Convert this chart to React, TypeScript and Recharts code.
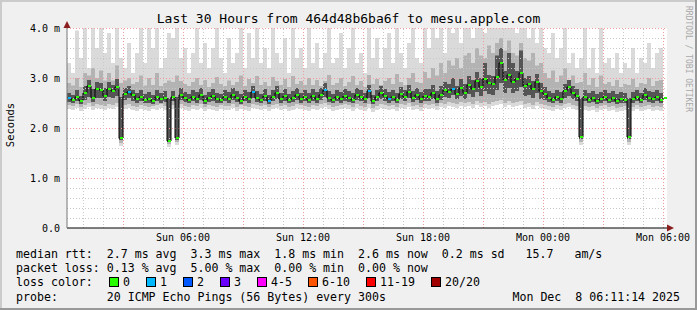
import { ComposedChart, Area, Line, XAxis, YAxis, CartesianGrid, ReferenceLine } from "recharts";

// one sample every 12 minutes, plot starts Sun 00:12, 30 hours wide
const STEP_MIN = 12;
const START_MIN = 12;
const SPAN_MIN = 1800;

// median rtt (ms)
const median = [
  2.60, 2.56, 2.62, 2.55, 2.70, 2.84, 2.60, 2.78, 2.76, 2.64,
  2.78, 2.74, 2.82, 1.80, 2.68, 2.72, 2.66, 2.58, 2.62, 2.56,
  2.58, 2.54, 2.62, 2.58, 2.60, 1.74, 2.62, 1.80, 2.66, 2.60,
  2.56, 2.62, 2.58, 2.66, 2.54, 2.60, 2.64, 2.58, 2.56, 2.62,
  2.58, 2.66, 2.60, 2.54, 2.62, 2.58, 2.72, 2.60, 2.56, 2.64,
  2.54, 2.62, 2.70, 2.58, 2.64, 2.56, 2.60, 2.66, 2.58, 2.62,
  2.56, 2.64, 2.58, 2.66, 2.76, 2.60, 2.56, 2.62, 2.58, 2.64,
  2.60, 2.56, 2.66, 2.62, 2.58, 2.74, 2.54, 2.62, 2.70, 2.64,
  2.58, 2.62, 2.56, 2.68, 2.62, 2.72, 2.60, 2.66, 2.58, 2.64,
  2.62, 2.70, 2.58, 2.66, 2.76, 2.72, 2.78, 2.68, 2.80, 2.70,
  2.86, 2.78, 2.94, 2.82, 2.98, 2.90, 2.88, 3.02, 3.30, 2.96,
  3.06, 2.92, 2.98, 3.10, 2.84, 2.88, 2.78, 2.92, 2.74, 2.68,
  2.60, 2.56, 2.62, 2.58, 2.74, 2.82, 2.70, 2.64, 1.82, 2.62,
  2.56, 2.60, 2.54, 2.58, 2.62, 2.56, 2.60, 2.54, 2.58, 2.56,
  1.82, 2.58, 2.62, 2.56, 2.66, 2.60, 2.58, 2.62, 2.56, 2.60,
];

// smoke: lowest ping
const smokeMin = [
  2.38, 2.36, 2.40, 2.34, 2.38, 2.42, 2.36, 2.40, 2.38, 2.36,
  2.40, 2.38, 2.42, 1.64, 2.38, 2.40, 2.36, 2.34, 2.38, 2.36,
  2.34, 2.38, 2.36, 2.40, 2.36, 1.62, 2.38, 1.66, 2.40, 2.36,
  2.34, 2.38, 2.36, 2.40, 2.34, 2.38, 2.36, 2.34, 2.38, 2.36,
  2.36, 2.40, 2.34, 2.38, 2.36, 2.34, 2.40, 2.38, 2.36, 2.38,
  2.34, 2.38, 2.40, 2.36, 2.38, 2.34, 2.36, 2.40, 2.38, 2.36,
  2.34, 2.38, 2.36, 2.40, 2.42, 2.38, 2.34, 2.36, 2.38, 2.40,
  2.38, 2.34, 2.40, 2.36, 2.34, 2.40, 2.32, 2.36, 2.40, 2.38,
  2.36, 2.38, 2.34, 2.40, 2.38, 2.42, 2.36, 2.38, 2.34, 2.40,
  2.38, 2.40, 2.36, 2.42, 2.40, 2.44, 2.42, 2.40, 2.44, 2.42,
  2.44, 2.40, 2.46, 2.42, 2.44, 2.40, 2.44, 2.46, 2.48, 2.42,
  2.46, 2.42, 2.44, 2.46, 2.40, 2.42, 2.38, 2.44, 2.40, 2.38,
  2.36, 2.34, 2.38, 2.36, 2.40, 2.42, 2.38, 2.36, 1.66, 2.36,
  2.34, 2.36, 2.32, 2.36, 2.38, 2.34, 2.36, 2.32, 2.34, 2.36,
  1.66, 2.34, 2.38, 2.34, 2.36, 2.38, 2.34, 2.36, 2.34, 2.38,
];

// smoke: lower edge of the middle band
const smokeLow = [
  2.46, 2.44, 2.48, 2.42, 2.46, 2.50, 2.44, 2.48, 2.46, 2.44,
  2.48, 2.46, 2.50, 1.70, 2.46, 2.48, 2.44, 2.42, 2.46, 2.44,
  2.42, 2.44, 2.46, 2.48, 2.44, 1.68, 2.46, 1.72, 2.48, 2.44,
  2.42, 2.46, 2.44, 2.48, 2.42, 2.46, 2.44, 2.42, 2.46, 2.44,
  2.44, 2.48, 2.42, 2.46, 2.44, 2.42, 2.48, 2.46, 2.44, 2.46,
  2.42, 2.46, 2.48, 2.44, 2.46, 2.42, 2.44, 2.48, 2.46, 2.44,
  2.42, 2.46, 2.44, 2.48, 2.50, 2.46, 2.42, 2.44, 2.46, 2.48,
  2.46, 2.42, 2.48, 2.44, 2.42, 2.48, 2.40, 2.44, 2.48, 2.46,
  2.44, 2.46, 2.42, 2.48, 2.46, 2.50, 2.44, 2.46, 2.42, 2.48,
  2.46, 2.48, 2.44, 2.50, 2.48, 2.52, 2.50, 2.48, 2.52, 2.50,
  2.52, 2.48, 2.54, 2.50, 2.52, 2.48, 2.52, 2.54, 2.56, 2.50,
  2.54, 2.50, 2.52, 2.54, 2.48, 2.50, 2.46, 2.52, 2.48, 2.46,
  2.44, 2.42, 2.46, 2.44, 2.48, 2.50, 2.46, 2.44, 1.72, 2.44,
  2.42, 2.44, 2.40, 2.44, 2.46, 2.42, 2.44, 2.40, 2.42, 2.44,
  1.72, 2.42, 2.46, 2.42, 2.44, 2.46, 2.42, 2.44, 2.42, 2.46,
];

// smoke: dark core around the median
const coreLow = [
  2.52, 2.50, 2.54, 2.48, 2.56, 2.62, 2.52, 2.60, 2.60, 2.54,
  2.62, 2.60, 2.64, 1.76, 2.56, 2.60, 2.54, 2.50, 2.54, 2.50,
  2.50, 2.48, 2.54, 2.50, 2.52, 1.72, 2.54, 1.76, 2.56, 2.52,
  2.50, 2.54, 2.50, 2.56, 2.48, 2.52, 2.54, 2.50, 2.50, 2.54,
  2.50, 2.56, 2.52, 2.48, 2.54, 2.50, 2.60, 2.52, 2.50, 2.54,
  2.48, 2.54, 2.58, 2.50, 2.54, 2.50, 2.52, 2.56, 2.50, 2.54,
  2.50, 2.54, 2.50, 2.56, 2.62, 2.52, 2.50, 2.54, 2.50, 2.54,
  2.52, 2.50, 2.56, 2.54, 2.50, 2.60, 2.48, 2.54, 2.58, 2.54,
  2.50, 2.54, 2.50, 2.58, 2.54, 2.60, 2.52, 2.56, 2.50, 2.54,
  2.54, 2.58, 2.50, 2.56, 2.62, 2.60, 2.66, 2.58, 2.64, 2.58,
  2.68, 2.62, 2.72, 2.64, 2.74, 2.68, 2.66, 2.76, 2.90, 2.70,
  2.80, 2.70, 2.74, 2.82, 2.64, 2.66, 2.60, 2.70, 2.58, 2.56,
  2.52, 2.50, 2.54, 2.50, 2.60, 2.64, 2.58, 2.54, 1.78, 2.54,
  2.50, 2.52, 2.48, 2.50, 2.54, 2.50, 2.52, 2.48, 2.50, 2.50,
  1.78, 2.50, 2.54, 2.50, 2.56, 2.52, 2.50, 2.54, 2.50, 2.52,
];

const coreHigh = [
  2.70, 2.66, 2.76, 2.64, 2.84, 2.96, 2.78, 2.92, 2.90, 2.80,
  2.92, 2.86, 2.98, 2.62, 2.80, 2.84, 2.76, 2.70, 2.76, 2.68,
  2.72, 2.66, 2.76, 2.70, 2.74, 2.60, 2.74, 2.62, 2.80, 2.72,
  2.68, 2.76, 2.72, 2.80, 2.66, 2.72, 2.78, 2.70, 2.68, 2.76,
  2.72, 2.80, 2.74, 2.68, 2.76, 2.72, 2.84, 2.74, 2.68, 2.78,
  2.66, 2.76, 2.84, 2.70, 2.78, 2.68, 2.74, 2.80, 2.70, 2.76,
  2.70, 2.78, 2.72, 2.80, 2.90, 2.74, 2.68, 2.76, 2.72, 2.78,
  2.74, 2.70, 2.80, 2.76, 2.70, 2.86, 2.66, 2.76, 2.84, 2.78,
  2.72, 2.76, 2.70, 2.82, 2.76, 2.86, 2.74, 2.80, 2.72, 2.78,
  2.78, 2.86, 2.74, 2.84, 2.92, 2.88, 3.00, 2.84, 2.98, 2.88,
  3.04, 2.96, 3.12, 3.00, 3.30, 3.06, 3.04, 3.45, 3.60, 3.14,
  3.50, 3.30, 3.14, 3.55, 3.00, 3.04, 2.94, 3.08, 2.90, 2.82,
  2.74, 2.70, 2.76, 2.72, 2.88, 2.96, 2.84, 2.78, 2.60, 2.76,
  2.70, 2.74, 2.68, 2.72, 2.76, 2.70, 2.74, 2.68, 2.72, 2.70,
  2.60, 2.72, 2.76, 2.70, 2.80, 2.74, 2.72, 2.76, 2.70, 2.74,
];

// smoke: upper edge of the middle band
const smokeHigh = [
  2.90, 2.85, 3.00, 2.82, 3.10, 3.05, 3.20, 3.00, 3.15, 2.95,
  3.10, 2.95, 3.25, 2.90, 2.95, 3.00, 2.88, 2.92, 3.05, 2.85,
  3.00, 2.86, 3.10, 2.84, 2.90, 2.95, 2.92, 3.05, 2.94, 2.88,
  2.84, 2.92, 3.00, 2.86, 2.96, 2.82, 2.90, 3.02, 2.88, 2.84,
  2.95, 2.86, 2.92, 3.05, 2.84, 2.98, 2.90, 3.04, 2.86, 2.92,
  2.84, 3.02, 2.94, 2.86, 2.98, 2.82, 3.04, 2.88, 2.94, 2.86,
  3.00, 2.86, 2.96, 2.84, 2.94, 3.06, 2.86, 2.90, 3.00, 2.84,
  2.92, 3.04, 2.86, 2.94, 2.82, 3.06, 2.88, 2.98, 2.86, 2.94,
  3.00, 2.88, 3.08, 2.92, 2.86, 3.00, 3.10, 2.92, 2.90, 3.12,
  3.00, 3.20, 3.05, 3.30, 3.10, 3.35, 3.25, 3.40, 3.20, 3.45,
  3.50, 3.30, 3.60, 3.45, 3.40, 3.65, 3.50, 3.70, 3.80, 3.55,
  3.75, 3.50, 3.45, 3.70, 3.40, 3.35, 3.50, 3.25, 3.30, 3.10,
  3.00, 3.15, 2.92, 3.05, 3.20, 2.96, 3.05, 2.90, 2.92, 3.10,
  2.86, 3.00, 2.82, 3.05, 2.88, 2.92, 2.84, 2.96, 2.82, 2.88,
  2.86, 2.98, 2.82, 2.90, 2.88, 3.00, 2.84, 2.94, 2.96, 2.86,
];

// smoke: highest ping (values above 4.0 are cut by the graph)
const smokeMax = [
  3.30, 3.10, 3.95, 3.40, 4.10, 3.20, 4.10, 3.60, 4.10, 3.50,
  3.90, 3.30, 4.10, 3.40, 3.20, 3.70, 3.10, 3.50, 4.10, 3.30,
  4.10, 3.60, 4.10, 3.20, 3.40, 3.90, 3.80, 4.10, 3.40, 3.60,
  3.10, 3.50, 4.10, 3.30, 3.70, 3.20, 3.60, 4.10, 3.40, 3.10,
  3.80, 3.30, 3.50, 4.10, 3.20, 3.90, 3.40, 4.10, 3.30, 3.60,
  3.20, 4.10, 3.50, 3.30, 3.80, 3.10, 4.10, 3.40, 3.60, 3.20,
  4.10, 3.30, 3.70, 3.20, 3.50, 4.10, 3.30, 3.40, 3.90, 3.20,
  3.60, 4.10, 3.30, 3.50, 3.10, 4.10, 3.40, 3.80, 3.20, 3.60,
  3.90, 3.30, 4.10, 3.50, 3.20, 3.70, 4.10, 3.40, 3.30, 4.10,
  3.60, 4.10, 3.80, 4.10, 3.50, 4.10, 3.90, 4.10, 3.70, 4.10,
  4.10, 3.80, 4.10, 4.10, 3.90, 4.10, 4.10, 4.10, 4.10, 4.10,
  4.10, 4.10, 3.90, 4.10, 4.10, 3.80, 4.10, 3.70, 4.10, 3.60,
  3.50, 3.90, 3.40, 3.60, 4.10, 3.30, 3.50, 3.20, 3.40, 4.10,
  3.20, 3.60, 3.10, 4.10, 3.30, 3.40, 3.20, 3.50, 3.10, 3.30,
  3.20, 3.60, 3.10, 3.40, 3.30, 3.70, 3.20, 3.50, 3.60, 3.30,
];

// samples where 1 of 20 pings was lost
const lossOneSamples = [0, 15, 46, 50, 64, 75, 80, 96];

const xTickHours = [6, 12, 18, 24, 30];
const xTickLabels = ["Sun 06:00", "Sun 12:00", "Sun 18:00", "Mon 00:00", "Mon 06:00"];
const yTicks = [0, 1, 2, 3, 4];
const yTickLabels = ["0.0", "1.0 m", "2.0 m", "3.0 m", "4.0 m"];

const lossLabels = ["0", "1", "2", "3", "4-5", "6-10", "11-19", "20/20"];
const lossColors = ["#26ff00", "#00b8ff", "#0059ff", "#6a00ff", "#ff00ff", "#ff5500", "#ff0000", "#a10000"];

const statsLine = "median rtt:  2.7 ms avg  3.3 ms max  1.8 ms min  2.6 ms now  0.2 ms sd   15.7   am/s";
const lossLine = "packet loss: 0.13 % avg  5.00 % max  0.00 % min  0.00 % now";
const probeLine = "probe:       20 ICMP Echo Pings (56 Bytes) every 300s";
const stamp = "Mon Dec  8 06:11:14 2025";
const title = "Last 30 Hours from 464d48b6ba6f to mesu.apple.com";

const MONO = "'DejaVu Sans Mono', monospace";
const GRID_GREY = "#c8c8c8";
const GRID_RED = "#f39a9a";

const rows = median.map((m, i) => ({
  t: i * STEP_MIN,
  med: m,
  light: [smokeMin[i], smokeMax[i]],
  mid: [smokeLow[i], smokeHigh[i]],
  core: [coreLow[i], coreHigh[i]],
  loss: lossOneSamples.includes(i) ? 1 : 0,
}));

const hourMarks = Array.from({ length: 30 }, (_, k) => k + 1);
const fifthMarks = Array.from({ length: 20 }, (_, k) => k + 1);

function MedianDot(props: any) {
  const { cx, cy, payload, index } = props;
  if (cx == null || cy == null) return <g key={`d${index}`} />;
  return (
    <rect key={`d${index}`} x={Math.round(cx) + 1} y={Math.round(cy) - 1} width={3} height={2} fill={lossColors[payload.loss]} />
  );
}

const legendRow = (top: number, text: string) => (
  <div style={{ position: "absolute", left: 16, top, fontFamily: MONO, fontSize: 11.6, lineHeight: "14px", whiteSpace: "pre", color: "#000" }}>
    {text}
  </div>
);

const boxX = [109, 146, 183, 220, 257, 308, 366, 431];

export default function App() {
  return (
    <div style={{ position: "absolute", left: 0, top: 0, width: 697, height: 310, background: "#f0f0f0", overflow: "hidden" }}>
      <div style={{ position: "absolute", left: 0, top: 0 }}>
        <ComposedChart width={697} height={310} data={rows} margin={{ top: 28, right: 30, left: 7, bottom: 62 }}>
          <CartesianGrid horizontal={false} vertical={false} fill="#ffffff" />
          <XAxis
            type="number"
            dataKey="t"
            domain={[0, SPAN_MIN]}
            allowDataOverflow
            ticks={xTickHours.map((h) => h * 60 - START_MIN)}
            tickFormatter={(v) => xTickLabels[xTickHours.indexOf((v + START_MIN) / 60)]}
            tick={{ fontFamily: MONO, fontSize: 10, fill: "#000" }}
            tickLine={false}
            tickSize={4}
            tickMargin={2}
            axisLine={{ stroke: "#000" }}
            height={20}
            interval={0}
          />
          <YAxis
            type="number"
            domain={[0, 4]}
            allowDataOverflow
            ticks={yTicks}
            tickFormatter={(v) => yTickLabels[yTicks.indexOf(v)]}
            tick={{ fontFamily: MONO, fontSize: 10, fill: "#000" }}
            tickLine={false}
            tickSize={6}
            tickMargin={1}
            axisLine={{ stroke: "#777" }}
            width={60}
            interval={0}
          />
          <Area dataKey="light" type="stepAfter" stroke="none" fill="#dadada" fillOpacity={1} isAnimationActive={false} dot={false} activeDot={false} />
          <Area dataKey="mid" type="stepAfter" stroke="none" fill="#b3b3b3" fillOpacity={1} isAnimationActive={false} dot={false} activeDot={false} />
          <Area dataKey="core" type="stepAfter" stroke="none" fill="#555555" fillOpacity={1} isAnimationActive={false} dot={false} activeDot={false} />
          {fifthMarks.map((k) => (
            <ReferenceLine key={`h${k}`} y={k / 5} stroke={k % 5 === 0 ? GRID_RED : GRID_GREY} strokeDasharray="1 2" shapeRendering="crispEdges" />
          ))}
          {hourMarks.map((h) => (
            <ReferenceLine key={`v${h}`} x={h * 60 - START_MIN} stroke={h % 3 === 0 ? GRID_RED : GRID_GREY} strokeDasharray="1 2" shapeRendering="crispEdges" />
          ))}
          <Line
            dataKey="med"
            type="stepAfter"
            stroke="#000"
            strokeWidth={1}
            isAnimationActive={false}
            activeDot={false}
            dot={(p: any) => <MedianDot key={`d${p.index}`} {...p} />}
          />
        </ComposedChart>
      </div>

      <svg width={697} height={310} style={{ position: "absolute", left: 0, top: 0, pointerEvents: "none" }}>
        <polygon points="63.5,28 70.5,28 67,21" fill="#8b1e1e" />
        <polygon points="667,224.5 667,231.5 674,228" fill="#8b1e1e" />
      </svg>

      <div style={{ position: "absolute", left: 0, width: 697, top: 11, textAlign: "center", fontFamily: MONO, fontSize: 13, lineHeight: "16px", whiteSpace: "pre" }}>
        {title}
      </div>
      <div style={{ position: "absolute", left: 10, top: 125, transform: "translate(-50%, -50%) rotate(-90deg)", fontFamily: MONO, fontSize: 10.5, whiteSpace: "pre" }}>
        Seconds
      </div>
      <div style={{ position: "absolute", left: 688, top: 59, transform: "translate(-50%, -50%) rotate(90deg)", fontFamily: MONO, fontSize: 8, color: "#a8a8a8", whiteSpace: "pre" }}>
        RRDTOOL / TOBI OETIKER
      </div>

      {legendRow(247, statsLine)}
      {legendRow(261, lossLine)}
      {legendRow(275, "loss color:")}
      {lossLabels.map((lab, i) => (
        <div key={lab}>
          <div style={{ position: "absolute", left: boxX[i], top: 277, width: 8, height: 8, background: lossColors[i], border: "1px solid #000" }} />
          <div style={{ position: "absolute", left: boxX[i] + 14, top: 275, fontFamily: MONO, fontSize: 11.6, lineHeight: "14px", whiteSpace: "pre" }}>{lab}</div>
        </div>
      ))}
      {legendRow(290, probeLine)}
      <div style={{ position: "absolute", right: 17, top: 290, fontFamily: MONO, fontSize: 11.6, lineHeight: "14px", whiteSpace: "pre" }}>
        {stamp}
      </div>

      <div style={{ position: "absolute", left: 0, top: 0, width: 697, height: 2, background: "#cbcbcb" }} />
      <div style={{ position: "absolute", left: 0, top: 0, width: 2, height: 310, background: "#cbcbcb" }} />
      <div style={{ position: "absolute", left: 0, top: 308, width: 697, height: 2, background: "#999" }} />
      <div style={{ position: "absolute", left: 695, top: 0, width: 2, height: 310, background: "#999" }} />
    </div>
  );
}
